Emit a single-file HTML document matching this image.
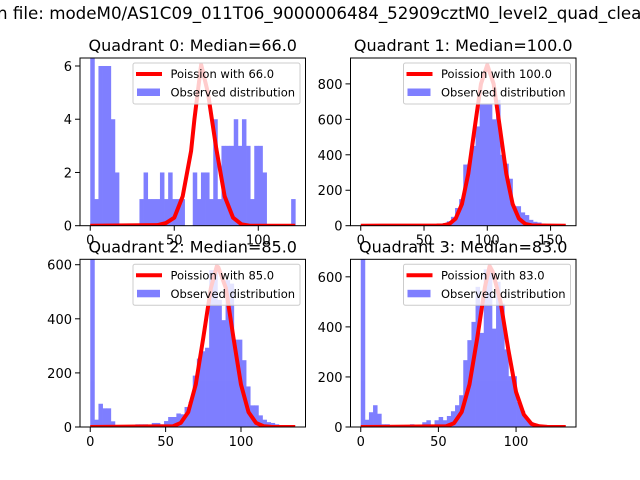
<!DOCTYPE html>
<html>
<head>
<meta charset="utf-8">
<style>
  html,body{margin:0;padding:0;background:#fff;}
  svg{display:block;}
  text{font-family:"DejaVu Sans","Liberation Sans",sans-serif;fill:#000;}
</style>
</head>
<body>
<svg id="fig" width="640" height="480" viewBox="0 0 640 480" xmlns="http://www.w3.org/2000/svg">
  <rect x="0" y="0" width="640" height="480" fill="#fff"/>
  <text x="-3" y="19" font-size="16.7">n file: modeM0/AS1C09_011T06_9000006484_52909cztM0_level2_quad_clean</text>
</svg>
<script>
// ---------- data ----------
const q0Counts = [7,1,6,6,6,4,2,0,0,0,0,0,1,2,1,1,1,2,1,2,1,1,1,0,0,2,1,2,2,1,4,1,3,3,3,4,3,4,3,1,3,3,2,0,0,0,0,0,0,1];
const q1Counts = [0,0,0,0,0,0,0,0,0,0,0,0,0,0,0,0,0,0,0,10,15,25,50,100,150,345,350,450,560,690,690,690,600,710,400,350,265,110,110,75,60,33,22,18,12,8,5,3,2,1];
const q2Counts = [700,27,86,69,69,21,3,2,1,0,0,10,10,10,5,15,15,10,22,37,37,50,47,74,93,190,253,280,293,580,580,470,395,543,530,323,323,247,150,80,80,43,27,18,15,10,3,1,0,0];
const q3Counts = [700,29,59,87,53,11,11,2,2,2,2,2,11,2,2,19,27,8,27,40,27,44,63,87,127,267,347,420,560,376,630,640,393,580,493,310,203,203,100,64,33,20,13,7,3,1,0,0,0,0];

const dataMax = [122, 162, 136, 132];

const q0LineX = [0,40,45,50,55,60,62,66,70,75,80,85,90,95,122];
const q0LineY = [0,0.02,0.1,0.3,1.1,2.8,4.0,6.05,5.0,2.9,1.1,0.3,0.05,0,0];
const q1LineX = [0,60,65,70,75,80,85,90,95,100,105,110,115,120,125,130,135,140,162];
const q1LineY = [0,1,2,10,40,123,294,550,800,907,800,550,294,123,40,10,2,1,0];
const q2LineX = [0,55,60,65,70,75,80,84,85,90,95,100,105,110,115,120,136];
const q2LineY = [0,3,15,55,157,330,513,595,590,513,330,157,55,15,3,0.5,0];
const q3LineX = [0,55,60,65,70,75,80,83,85,90,95,100,105,110,115,120,132];
const q3LineY = [0,3,15,60,170,355,560,643,620,500,310,140,50,12,3,0.5,0];

const titles = ["Quadrant 0: Median=66.0","Quadrant 1: Median=100.0","Quadrant 2: Median=85.0","Quadrant 3: Median=83.0"];
const legendLabels = ["Poission with 66.0","Poission with 100.0","Poission with 85.0","Poission with 83.0"];
const yMaxes = [6.3, 946, 620, 670];
const xTicks0 = [0,50,100];
const xTicks1 = [0,50,100,150];
const xTicks2 = [0,50,100];
const xTicks3 = [0,50,100];
const yTicks0 = [0,2,4,6];
const yTicks1 = [0,200,400,600,800];
const yTicks2 = [0,200,400,600];
const yTicks3 = [0,200,400,600];

// ---------- rendering ----------
const NS = "http://www.w3.org/2000/svg";
const svg = document.getElementById("fig");
function mk(tag, attrs, parent){
  const e = document.createElementNS(NS, tag);
  for (const k in attrs) e.setAttribute(k, attrs[k]);
  (parent||svg).appendChild(e);
  return e;
}
const boxes = [
  {x0:80, x1:305.5, y0:58, y1:225.7},
  {x0:350.5, x1:576, y0:58, y1:225.7},
  {x0:80, x1:305.5, y0:259.3, y1:427},
  {x0:350.5, x1:576, y0:259.3, y1:427}
];
const allCounts = [q0Counts,q1Counts,q2Counts,q3Counts];
const allLX = [q0LineX,q1LineX,q2LineX,q3LineX];
const allLY = [q0LineY,q1LineY,q2LineY,q3LineY];
const allXT = [xTicks0,xTicks1,xTicks2,xTicks3];
const allYT = [yTicks0,yTicks1,yTicks2,yTicks3];

const defs = mk("defs", {});

for (let p=0; p<4; p++){
  const b = boxes[p];
  const dmax = dataMax[p];
  const xmin = -0.05*dmax, xmax = dmax*1.05;
  const ymax = yMaxes[p];
  const sx = v => b.x0 + (v - xmin)/(xmax - xmin)*(b.x1 - b.x0);
  const sy = v => b.y1 - v/ymax*(b.y1 - b.y0);

  const g = mk("g", {});
  
  

  const cp = mk("clipPath", {id:"clip"+p}, defs);
  mk("rect", {x:b.x0, y:b.y0, width:b.x1-b.x0, height:b.y1-b.y0}, cp);

  const plot = mk("g", {"clip-path":"url(#clip"+p+")"}, g);
  
  

  // histogram bars (group opacity avoids seams)
  const bars = mk("g", {opacity:"0.5"}, plot);
  
  
  const counts = allCounts[p];
  const bw = dmax / counts.length;
  for (let i=0; i<counts.length; i++){
    if (counts[i] <= 0) continue;
    const xa = sx(i*bw), xb = sx((i+1)*bw);
    const yt = sy(counts[i]);
    const r = mk("rect", {x:xa, y:yt, width:xb-xa+0.4, height:sy(0)-yt, fill:"#0000ff"}, bars);
    
    
  }

  // poisson line
  const lx = allLX[p], ly = allLY[p];
  let d = "";
  for (let i=0; i<lx.length; i++) d += (i?"L":"M") + sx(lx[i]).toFixed(2) + "," + sy(ly[i]).toFixed(2);
  const line = mk("path", {d:d, fill:"none", stroke:"#ff0000", "stroke-width":"4", "stroke-linejoin":"round"}, plot);
  
  

  // spines
  const frame = mk("rect", {x:b.x0, y:b.y0, width:b.x1-b.x0, height:b.y1-b.y0, fill:"none", stroke:"#000", "stroke-width":"1"}, g);
  
  

  // x ticks
  for (const t of allXT[p]){
    const x = sx(t);
    const tk = mk("line", {x1:x, x2:x, y1:b.y1, y2:b.y1+5, stroke:"#000", "stroke-width":"1"}, g);
    
    
    const tl = mk("text", {x:x, y:b.y1+19, "font-size":"13", "text-anchor":"middle"}, g);
    tl.textContent = t;
    
    
  }
  // y ticks
  for (const t of allYT[p]){
    const y = sy(t);
    const tk = mk("line", {x1:b.x0-5, x2:b.x0, y1:y, y2:y, stroke:"#000", "stroke-width":"1"}, g);
    
    
    const tl = mk("text", {x:b.x0-8, y:y+5, "font-size":"13", "text-anchor":"end"}, g);
    tl.textContent = t;
    
    
  }

  // title
  const tt = mk("text", {x:(b.x0+b.x1)/2, y:b.y0-7, "font-size":"16", "text-anchor":"middle"}, g);
  tt.textContent = titles[p];
  
  

  // legend
  const lg = mk("g", {}, g);
  
  
  const lx0 = b.x1 - 172.5, ly0 = b.y0 + 5;
  mk("rect", {x:lx0, y:ly0, width:167, height:41, rx:2, fill:"#fff", "fill-opacity":"0.8", stroke:"#cccccc", "stroke-width":"1"}, lg);
  const ls = mk("line", {x1:lx0+3, x2:lx0+29, y1:ly0+11, y2:ly0+11, stroke:"#ff0000", "stroke-width":"4"}, lg);
  
  
  const lt1 = mk("text", {x:lx0+37.5, y:ly0+15, "font-size":"11.5"}, lg);
  lt1.textContent = legendLabels[p];
  
  
  const pr = mk("rect", {x:lx0+4, y:ly0+25.5, width:23, height:7.5, fill:"#0000ff", "fill-opacity":"0.5"}, lg);
  
  
  const lt2 = mk("text", {x:lx0+37.5, y:ly0+33.5, "font-size":"11.5"}, lg);
  lt2.textContent = "Observed distribution";
  
  
}
</script>
</body>
</html>
